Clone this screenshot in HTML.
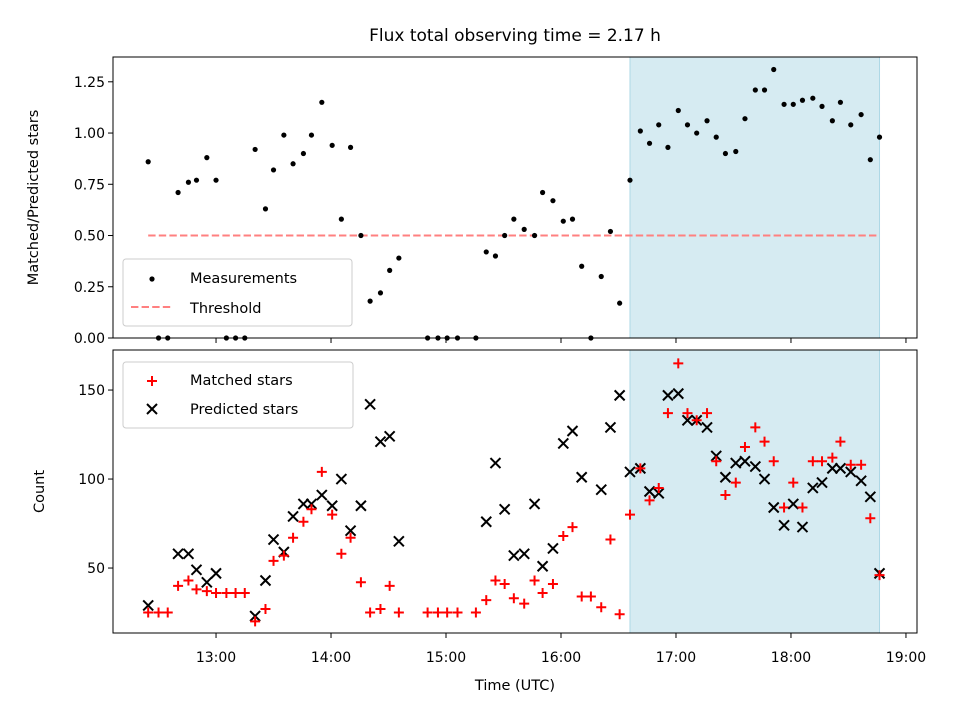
<!DOCTYPE html>
<html><head><meta charset="utf-8"><style>
body{margin:0;background:#fff}
svg{display:block;font-family:"DejaVu Sans","Liberation Sans",sans-serif}
</style></head><body>
<svg id="chart" width="960" height="720" viewBox="0 0 960 720">
<rect width="960" height="720" fill="#fff"/>
<text x="515" y="41" font-size="17" text-anchor="middle" fill="#000">Flux total observing time = 2.17 h</text>
<g id="topPanel"></g><g id="botPanel"></g>
</svg>
<script>
const times=[12.41,12.50,12.58,12.67,12.76,12.83,12.92,13.00,13.09,13.17,13.25,13.34,13.43,13.50,13.59,13.67,13.76,13.83,13.92,14.01,14.09,14.17,14.26,14.34,14.43,14.51,14.59,14.84,14.93,15.01,15.10,15.26,15.35,15.43,15.51,15.59,15.68,15.77,15.84,15.93,16.02,16.10,16.18,16.26,16.35,16.43,16.51,16.60,16.69,16.77,16.85,16.93,17.02,17.10,17.18,17.27,17.35,17.43,17.52,17.60,17.69,17.77,17.85,17.94,18.02,18.10,18.19,18.27,18.36,18.43,18.52,18.61,18.69,18.77];
const ratios=[0.86,0,0,0.71,0.76,0.77,0.88,0.77,0,0,0,0.92,0.63,0.82,0.99,0.85,0.90,0.99,1.15,0.94,0.58,0.93,0.50,0.18,0.22,0.33,0.39,0,0,0,0,0,0.42,0.40,0.50,0.58,0.53,0.50,0.71,0.67,0.57,0.58,0.35,0,0.30,0.52,0.17,0.77,1.01,0.95,1.04,0.93,1.11,1.04,1.00,1.06,0.98,0.90,0.91,1.07,1.21,1.21,1.31,1.14,1.14,1.16,1.17,1.13,1.06,1.15,1.04,1.09,0.87,0.98];
const matched=[25,25,25,40,43,38,37,36,36,36,36,20,27,54,57,67,76,83,104,80,58,67,42,25,27,40,25,25,25,25,25,25,32,43,41,33,30,43,36,41,68,73,34,34,28,66,24,80,106,88,95,137,165,137,133,137,110,91,98,118,129,121,110,84,98,84,110,110,112,121,108,108,78,46];
const predicted=[29,null,null,58,58,49,42,47,null,null,null,23,43,66,59,79,86,86,91,85,100,71,85,142,121,124,65,null,null,null,null,null,76,109,83,57,58,86,51,61,120,127,101,null,94,129,147,104,106,93,92,147,148,133,133,129,113,101,109,110,107,100,84,74,86,73,95,98,106,106,104,99,90,47];
const xTicks=["13:00","14:00","15:00","16:00","17:00","18:00","19:00"];
const xTickVals=[13,14,15,16,17,18,19];
const topTicks=[0,0.25,0.5,0.75,1.0,1.25];
const topTickLabels=["0.00","0.25","0.50","0.75","1.00","1.25"];
const botTicks=[50,100,150];
const threshold=[0.5];
const shade=[16.60,18.77];

const NS="http://www.w3.org/2000/svg";
const L=113,R=917;
const X=t=>L+(t-12.104)/(19.096-12.104)*(R-L);
const T0=57,T1=338,B0=350,B1=633;
const YT=v=>T1-v/1.371*(T1-T0);
const YB=v=>B1-(v-13.5)/(172.5-13.5)*(B1-B0);
function el(p,tag,a,txt){const e=document.createElementNS(NS,tag);for(const k in a)e.setAttribute(k,a[k]);if(txt!==undefined)e.textContent=txt;p.appendChild(e);return e;}
const gTop=document.getElementById('topPanel'),gBot=document.getElementById('botPanel');

let s=el(gTop,'rect',{x:X(shade[0]),y:T0,width:X(shade[1])-X(shade[0]),height:T1-T0,fill:'#add8e6','fill-opacity':0.5,stroke:'#add8e6'});


s=el(gBot,'rect',{x:X(shade[0]),y:B0,width:X(shade[1])-X(shade[0]),height:B1-B0,fill:'#add8e6','fill-opacity':0.5,stroke:'#add8e6'});



let th=el(gTop,'line',{x1:X(times[0]),x2:X(times[times.length-1]),y1:YT(threshold[0]),y2:YT(threshold[0]),stroke:'#ff8080','stroke-width':2,'stroke-dasharray':'7.4,3.2'});



times.forEach((t,i)=>{
 const c=el(gTop,'circle',{cx:X(t),cy:YT(ratios[i]),r:2.6,fill:'#000'});
 
 
});
times.forEach((t,i)=>{
 const x=X(t);
 if(predicted[i]!==null){
  const y=YB(predicted[i]);
  const g=el(gBot,'path',{d:`M${x-5} ${y-5}L${x+5} ${y+5}M${x-5} ${y+5}L${x+5} ${y-5}`,stroke:'#000','stroke-width':2});
  
  
 }
 const y=YB(matched[i]);
 const p=el(gBot,'path',{d:`M${x-5} ${y}L${x+5} ${y}M${x} ${y-5}L${x} ${y+5}`,stroke:'#f00','stroke-width':2});
 
 
});

let f=el(gTop,'rect',{x:L,y:T0,width:R-L,height:T1-T0,fill:'none',stroke:'#000','stroke-width':1});


f=el(gBot,'rect',{x:L,y:B0,width:R-L,height:B1-B0,fill:'none',stroke:'#000','stroke-width':1});



xTickVals.forEach((v,i)=>{
 const x=X(v);
 let t=el(gTop,'line',{x1:x,x2:x,y1:T1,y2:T1+5,stroke:'#000'});
 
 
 t=el(gBot,'line',{x1:x,x2:x,y1:B1,y2:B1+5,stroke:'#000'});
 
 
 const lb=el(gBot,'text',{x:x,y:B1+29,'font-size':14,'text-anchor':'middle'},xTicks[i]);
 
 
});
topTicks.forEach((v,i)=>{
 const y=YT(v);
 let t=el(gTop,'line',{x1:L-5,x2:L,y1:y,y2:y,stroke:'#000'});
 
 
 const lb=el(gTop,'text',{x:L-8,y:y+5,'font-size':14,'text-anchor':'end'},topTickLabels[i]);
 
 
});
botTicks.forEach(v=>{
 const y=YB(v);
 let t=el(gBot,'line',{x1:L-5,x2:L,y1:y,y2:y,stroke:'#000'});
 
 
 const lb=el(gBot,'text',{x:L-8,y:y+5,'font-size':14,'text-anchor':'end'},String(v));
 
 
});
let a=el(gBot,'text',{x:515,y:690,'font-size':14.5,'text-anchor':'middle'},'Time (UTC)');


a=el(gTop,'text',{x:0,y:0,'font-size':14.5,'text-anchor':'middle',transform:`translate(38,${(T0+T1)/2}) rotate(-90)`},'Matched/Predicted stars');


a=el(gBot,'text',{x:0,y:0,'font-size':14.5,'text-anchor':'middle',transform:`translate(44,${(B0+B1)/2}) rotate(-90)`},'Count');



let lg=el(gTop,'rect',{x:123,y:259,width:229,height:67,rx:3,fill:'#fff','fill-opacity':0.8,stroke:'#ccc'});


let le=el(gTop,'circle',{cx:152,cy:279,r:2.6,fill:'#000'});


le=el(gTop,'text',{x:190,y:283,'font-size':14.5},'Measurements');


le=el(gTop,'line',{x1:131,x2:173,y1:307,y2:307,stroke:'#ff8080','stroke-width':2,'stroke-dasharray':'7.4,3.2'});


le=el(gTop,'text',{x:190,y:313,'font-size':14.5},'Threshold');



lg=el(gBot,'rect',{x:123,y:362,width:230,height:66,rx:3,fill:'#fff','fill-opacity':0.8,stroke:'#ccc'});


le=el(gBot,'path',{d:'M147 381L157 381M152 376L152 386',stroke:'#f00','stroke-width':2});


le=el(gBot,'text',{x:190,y:385,'font-size':14.5},'Matched stars');


le=el(gBot,'path',{d:'M147 404L157 414M147 414L157 404',stroke:'#000','stroke-width':2});


le=el(gBot,'text',{x:190,y:414,'font-size':14.5},'Predicted stars');


</script>
</body></html>
